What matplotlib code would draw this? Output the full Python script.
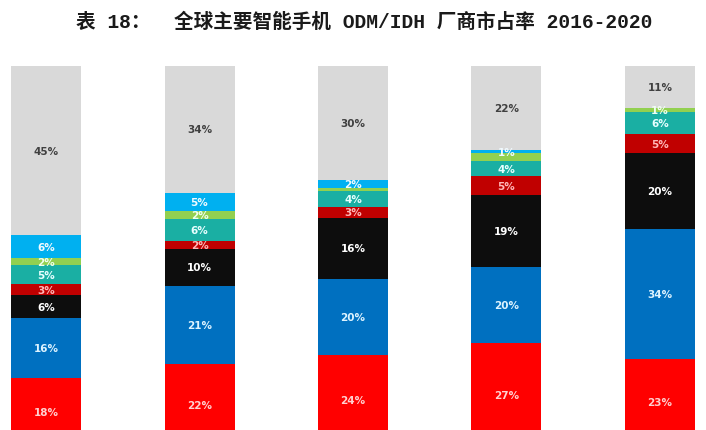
import numpy as np
import matplotlib.pyplot as plt

plt.rcParams['font.family'] = ['Noto Sans CJK SC', 'DejaVu Sans']

years = ['2016', '2017', '2018', '2019', '2020']

# segments from bottom to top (market share, %)
red = [18, 22, 24, 27, 23]
blue = [16, 21, 20, 20, 34]
black = [6, 10, 16, 19, 20]
darkred = [3, 2, 3, 5, 5]
teal = [5, 6, 4, 4, 6]
green = [2, 2, 1, 2, 1]
lightblue = [6, 5, 2, 1, 0]
grey = [45, 34, 30, 22, 11]

# green slice in 2018 / 2019 carries no label in the source
green_shown = [True, True, False, False, True]

series = [
    (red, '#FF0000', '#FFD0D0'),
    (blue, '#0070C0', '#DDF3FF'),
    (black, '#0D0D0D', '#FFFFFF'),
    (darkred, '#C00000', '#FFB8B8'),
    (teal, '#1AAFA3', '#E8FFFF'),
    (green, '#92D050', '#F0FFF0'),
    (lightblue, '#00B0F0', '#F0FAFF'),
    (grey, '#D9D9D9', '#404040'),
]

data = np.array([s[0] for s in series], dtype=float)
totals = data.sum(axis=0)
shares = data / totals * 100

fig = plt.figure(figsize=(7.06, 4.31), dpi=100)
ax = fig.add_axes([0, 0, 1, 0.8445])
x = np.arange(len(years))
bottom = np.zeros(len(years))
for i, (vals, color, tcolor) in enumerate(series):
    bars = ax.bar(x, shares[i], 0.456, bottom=bottom, color=color, linewidth=0)
    for j, rect in enumerate(bars):
        v = vals[j]
        if v <= 0:
            continue
        if vals is green and not green_shown[j]:
            continue
        ax.text(rect.get_x() + rect.get_width() / 2, bottom[j] + shares[i][j] / 2,
                f'{v}%', ha='center', va='center', color=tcolor,
                fontsize=7.5, fontweight='bold', family=['DejaVu Sans'])
    bottom += shares[i]

ax.set_xlim(-0.3, 4.3)
ax.set_ylim(4.2, 100)
ax.axis('off')

fig.text(0.516, 0.948, '表 18：  全球主要智能手机 ODM/IDH 厂商市占率 2016-2020',
         ha='center', va='center', fontsize=14.1, fontweight='bold', color='#1a1a1a',
         family=['Liberation Mono', 'Noto Sans CJK SC'])

fig.savefig('out.png', dpi=100)
